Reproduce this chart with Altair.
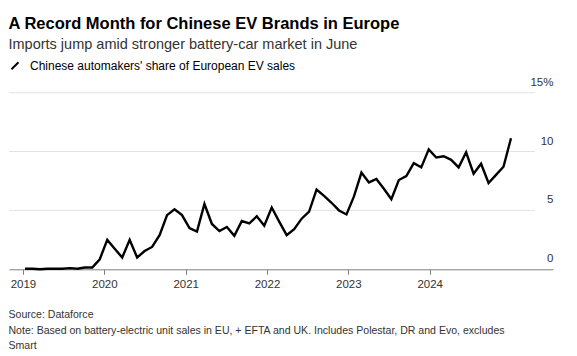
import altair as alt
import pandas as pd

# Chinese automakers' share of European EV sales (%), monthly Jan 2019 - Jun 2024
share = [0.05, 0.05, 0.0, 0.05, 0.05, 0.05, 0.1, 0.05, 0.15, 0.15,
         0.85, 2.5, 1.75, 1.0, 2.5, 1.0, 1.55, 1.9, 2.9, 4.6,
         5.1, 4.6, 3.5, 3.2, 5.55, 3.85, 3.25, 3.6, 2.85, 4.1,
         3.9, 4.5, 3.7, 5.25, 4.05, 2.9, 3.4, 4.3, 4.9, 6.78,
         6.24, 5.65, 5.0, 4.66, 6.19, 8.22, 7.38, 7.67, 6.84, 5.95,
         7.58, 7.92, 9.01, 8.66, 10.19, 9.5, 9.6, 9.3, 8.66, 9.94,
         8.12, 8.96, 7.33, 8.02, 8.71, 11.13]
months = pd.date_range("2019-01-01", periods=len(share), freq="MS").strftime("%Y-%m").tolist()
years = ["2019", "2020", "2021", "2022", "2023", "2024"]
y_ticks = [0, 5, 10, 15]
grid_ticks = [5, 10, 15]
series_name = "Chinese automakers' share of European EV sales"
title_text = "A Record Month for Chinese EV Brands in Europe"
subtitle_text = "Imports jump amid stronger battery-car market in June"
footer_text = ("Source: Dataforce\n"
               "Note: Based on battery-electric unit sales in EU, + EFTA and UK. "
               "Includes Polestar, DR and Evo, excludes\nSmart")

df = pd.DataFrame({"idx": list(range(len(share))), "month": months,
                   "share": share, "series": series_name})
grid_df = pd.DataFrame({"tick": grid_ticks})
footer_df = pd.DataFrame({"t": [footer_text]})

FONT = "Liberation Sans"
TICK0, STEP = -0.27, 10.88
x_ticks = [TICK0 + STEP * i for i in range(len(years))]
label_expr = "[" + ",".join(f"'{y}'" for y in years) + f"][round((datum.value - ({TICK0})) / {STEP})]"

x_scale = alt.Scale(domain=[-2.14, 70.62], nice=False, zero=False)
y_scale = alt.Scale(domain=[0, 15], nice=False)

y_axis = alt.Axis(orient="right", values=y_ticks, grid=False, domain=False, ticks=False,
                  labelAlign="right", labelPadding=0, labelBaseline="alphabetic",
                  labelOffset=-7.5, labelFontSize=11.5, labelFont=FONT, labelColor="#333333",
                  labelExpr="datum.value == 15 ? '15%' : datum.label",
                  title=None, labelFlush=False, labelOverlap=False, labelBound=False)

W, H = 544, 176.6

grid = alt.Chart(grid_df).mark_rule(color="#e2e2e2", strokeWidth=1).encode(
    y=alt.Y("tick:Q", scale=y_scale, axis=y_axis),
    x=alt.value(0),
    x2=alt.value(526),
)

line = alt.Chart(df).mark_line(strokeWidth=2.4, strokeJoin="miter").encode(
    x=alt.X("idx:Q", scale=x_scale,
            axis=alt.Axis(values=x_ticks, labelExpr=label_expr, title=None, grid=False,
                          domainColor="#808080", tickColor="#808080", tickSize=5,
                          labelFontSize=11.5, labelFont=FONT, labelColor="#333333",
                          labelPadding=4, labelFlush=False)),
    y=alt.Y("share:Q", scale=y_scale, axis=y_axis),
    color=alt.Color("series:N", scale=alt.Scale(domain=[series_name], range=["#000000"]),
                    legend=alt.Legend(title=None, orient="none", legendX=0, legendY=-33,
                                      symbolType="M-1,1L1,-1", symbolSize=49,
                                      symbolStrokeWidth=2, symbolStrokeColor="#000",
                                      labelFontSize=12, labelFont=FONT, labelColor="#000",
                                      labelOffset=9, padding=0, labelLimit=0)),
)

footer = alt.Chart(footer_df).mark_text(
    align="left", baseline="alphabetic", lineBreak="\n", lineHeight=15.5,
    fontSize=10.55, font=FONT, color="#333333"
).encode(text="t:N", x=alt.value(-0.5), y=alt.value(225.6))

chart = alt.layer(grid, line, footer).properties(
    width=W, height=H,
    autosize=alt.AutoSizeParams(type="none"),
    padding={"left": 9, "top": 92.7, "right": 24, "bottom": 86.7},
    title=alt.TitleParams(text=title_text, subtitle=subtitle_text, anchor="start",
                          font=FONT, fontSize=16.5, fontWeight="bold", color="#000",
                          subtitleFont=FONT, subtitleFontSize=14.5, subtitleColor="#333333",
                          subtitlePadding=6, offset=8),
).configure_view(stroke=None)

chart.save("out.html", embed_options={"renderer": "svg", "actions": False})
